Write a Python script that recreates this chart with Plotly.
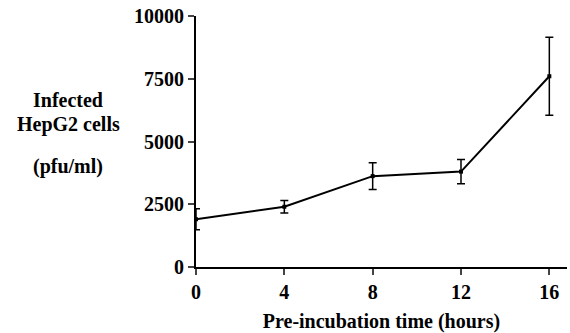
import plotly.graph_objects as go

hours = [0, 4, 8, 12, 16]
pfu = [1900, 2400, 3620, 3800, 7600]
err = [420, 250, 530, 480, 1550]
x_ticks = [0, 4, 8, 12, 16]
y_ticks = [0, 2500, 5000, 7500, 10000]
x_tick_labels = ["0", "4", "8", "12", "16"]
y_tick_labels = ["0", "2500", "5000", "7500", "10000"]

FONT = "Liberation Serif"
FS = 20

fig = go.Figure()
fig.add_trace(go.Scatter(
    x=hours, y=pfu, mode="lines+markers",
    line=dict(color="black", width=2),
    marker=dict(symbol="square", size=4, color="black"),
    error_y=dict(type="data", array=err, visible=True, color="black", thickness=1.5, width=4),
    showlegend=False,
))

fig.update_layout(
    width=570, height=333,
    margin=dict(l=196, r=3, t=16, b=66),
    plot_bgcolor="white", paper_bgcolor="white",
    font=dict(family=FONT, size=FS, color="black"),
    xaxis=dict(range=[0, 16.8], tickvals=x_ticks, ticktext=["<b>%s</b>" % t for t in x_tick_labels],
               ticks="outside", ticklen=6, tickwidth=2,
               showline=True, linewidth=2, linecolor="black", showgrid=False, zeroline=False,
               tickfont=dict(family=FONT, size=FS, color="black"),
               title=dict(text="<b>Pre-incubation time (hours)</b>", standoff=14,
                          font=dict(family=FONT, size=FS))),
    yaxis=dict(range=[0, 10000], tickvals=y_ticks, ticktext=["<b>%s</b>" % t for t in y_tick_labels],
               ticks="outside", ticklen=6, tickwidth=2,
               showline=True, linewidth=2, linecolor="black", showgrid=False, zeroline=False,
               tickfont=dict(family=FONT, size=FS, color="black")),
)

ylab_x = -0.345
for txt, yy in [("Infected", 0.665), ("HepG2 cells", 0.566), ("(pfu/ml)", 0.402)]:
    fig.add_annotation(text="<b>%s</b>" % txt, xref="paper", yref="paper",
                       x=ylab_x, y=yy, xanchor="center", yanchor="middle", showarrow=False,
                       font=dict(family=FONT, size=FS))

fig.write_html("out.html", config={"displayModeBar": False},
               post_script="document.body.style.margin='0';")
